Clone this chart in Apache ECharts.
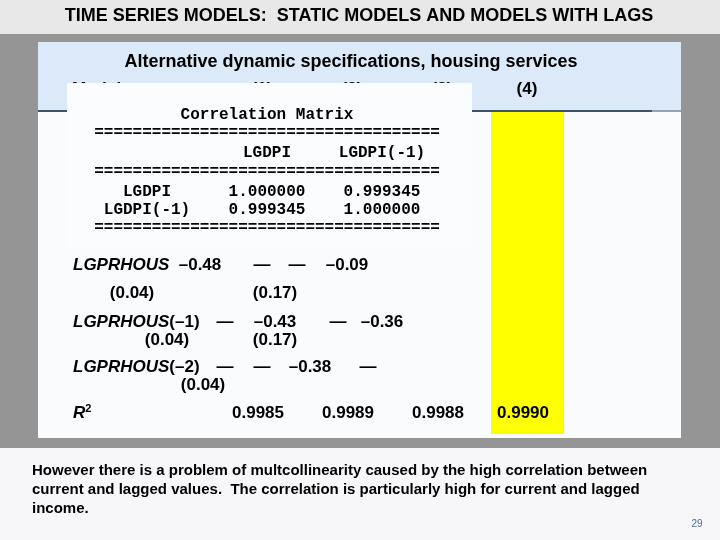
<!DOCTYPE html>
<html>
<head>
<meta charset="utf-8">
<script src="https://cdn.jsdelivr.net/npm/echarts@6/dist/echarts.min.js"></script>
<style>html,body{margin:0;padding:0;background:#f7f7f9}#c{width:720px;height:540px}</style>
</head>
<body>
<div id="c"></div>
<script>
// ---- content (data) ----
const slideTitle = 'TIME SERIES MODELS:  STATIC MODELS AND MODELS WITH LAGS';
const tableTitle = 'Alternative dynamic specifications, housing services';
const modelHeaders = ['Model', '(1)', '(2)', '(3)', '(4)'];
const corrTitle = 'Correlation Matrix';
const corrVars = ['LGDPI', 'LGDPI(-1)'];
const corrRow1 = ['1.000000', '0.999345'];
const corrRow2 = ['0.999345', '1.000000'];
const regLabels = ['LGPRHOUS', 'LGPRHOUS(–1)', 'LGPRHOUS(–2)'];
const regCoefRow1 = ['–0.48', '—', '—', '–0.09'];
const regCoefRow2 = ['—', '–0.43', '—', '–0.36'];
const regCoefRow3 = ['—', '—', '–0.38', '—'];
const regSeRow1 = ['(0.04)', '(0.17)'];
const regSeRow2 = ['(0.04)', '(0.17)'];
const regSeRow3 = ['(0.04)'];
const rSquared = ['0.9985', '0.9989', '0.9988', '0.9990'];
const noteLines = [
  'However there is a problem of multcollinearity caused by the high correlation between',
  'current and lagged values.  The correlation is particularly high for current and lagged',
  'income.'
];
const pageNumber = '29';

// ---- layout ----
const SANS = 'Liberation Sans, Arial, sans-serif';
const MONO = 'Liberation Mono, Courier New, monospace';
const headerX = [72, 262, 352, 442, 527];
const corrColX = [147, 267, 382];
const coefX = [[200, 262, 297, 347], [225, 275, 338, 382], [225, 262, 310, 368]];
const seX = [[132, 275], [167, 275], [203]];
const rowY = [265, 322, 367];
const seY = [293, 340, 385];
const r2X = [258, 348, 438, 523];

const g = [];
function txt(x, y, s, o) {
  o = o || {};
  g.push({
    type: 'text', x: x, y: y, z: o.z || 10,
    style: Object.assign({
      text: s, fill: o.fill || '#000',
      fontFamily: o.family || SANS, fontSize: o.size || 17,
      fontWeight: o.weight || 'bold', fontStyle: o.style || 'normal',
      align: o.align || 'center', verticalAlign: 'middle'
    }, o.extra || {})
  });
}
function rect(x, y, w, h, fill, z) {
  g.push({ type: 'rect', shape: { x: x, y: y, width: w, height: h }, style: { fill: fill }, z: z || 1 });
}

// backgrounds
rect(0, 0, 720, 34, '#e8e8e8', 0);
rect(0, 34, 720, 414, '#959595', 0);
rect(0, 448, 720, 92, '#f7f7f9', 0);
rect(38, 42, 643, 396, '#fafbfd', 1);
rect(38, 42, 643, 69, '#dce9f9', 2);
rect(38, 110, 614, 2, '#3f5468', 3);
rect(652, 110, 29, 2, '#9aa3ad', 3);
rect(491, 112, 73, 322, '#ffff00', 2);

// slide title
txt(359, 16, slideTitle, { size: 18 });
// table title + header row
txt(351, 62, tableTitle, { size: 18 });
modelHeaders.forEach(function (h, i) {
  txt(headerX[i], 89, h, { size: 17, align: i === 0 ? 'left' : 'center', z: 5 });
});

// correlation matrix box
rect(67, 83, 405, 165, '#fbfcfe', 8);
const eq = '='.repeat(36);
txt(267, 115, corrTitle, { family: MONO, size: 16 });
txt(267, 133, eq, { family: MONO, size: 16 });
txt(corrColX[1], 153, corrVars[0], { family: MONO, size: 16 });
txt(corrColX[2], 153, corrVars[1], { family: MONO, size: 16 });
txt(267, 172, eq, { family: MONO, size: 16 });
[corrRow1, corrRow2].forEach(function (row, r) {
  const y = 192 + r * 18;
  txt(corrColX[0], y, corrVars[r], { family: MONO, size: 16 });
  row.forEach(function (v, c) { txt(corrColX[c + 1], y, v, { family: MONO, size: 16 }); });
});
txt(267, 228, eq, { family: MONO, size: 16 });

// regression rows
const coefRows = [regCoefRow1, regCoefRow2, regCoefRow3];
const seRows = [regSeRow1, regSeRow2, regSeRow3];
regLabels.forEach(function (lab, r) {
  const m = lab.match(/^([A-Z]+)(.*)$/);
  g.push({
    type: 'text', x: 73, y: rowY[r], z: 10,
    style: {
      text: '{i|' + m[1] + '}' + (m[2] ? '{b|' + m[2] + '}' : ''),
      align: 'left', verticalAlign: 'middle',
      rich: {
        i: { fontFamily: SANS, fontSize: 17, fontWeight: 'bold', fontStyle: 'italic', fill: '#000' },
        b: { fontFamily: SANS, fontSize: 17, fontWeight: 'bold', fill: '#000' }
      }
    }
  });
  coefRows[r].forEach(function (v, c) { txt(coefX[r][c], rowY[r], v); });
  seRows[r].forEach(function (v, c) { txt(seX[r][c], seY[r], v); });
});

// R squared row
g.push({
  type: 'text', x: 73, y: 413, z: 10,
  style: {
    text: '{i|R}{s|2}', align: 'left', verticalAlign: 'middle',
    rich: {
      i: { fontFamily: SANS, fontSize: 17, fontWeight: 'bold', fontStyle: 'italic', fill: '#000' },
      s: { fontFamily: SANS, fontSize: 11, fontWeight: 'bold', fill: '#000', verticalAlign: 'top', padding: [0, 0, 8, 0] }
    }
  }
});
rSquared.forEach(function (v, i) { txt(r2X[i], 413, v); });

// note
noteLines.forEach(function (l, i) { txt(32, 471 + i * 19, l, { size: 15, align: 'left' }); });
txt(697, 524, pageNumber, { size: 10, weight: 'normal', fill: '#4a6b9a' });

const chart = echarts.init(document.getElementById('c'));
chart.setOption({ animation: false, backgroundColor: '#f7f7f9', graphic: { elements: g } });
</script>
</body>
</html>
